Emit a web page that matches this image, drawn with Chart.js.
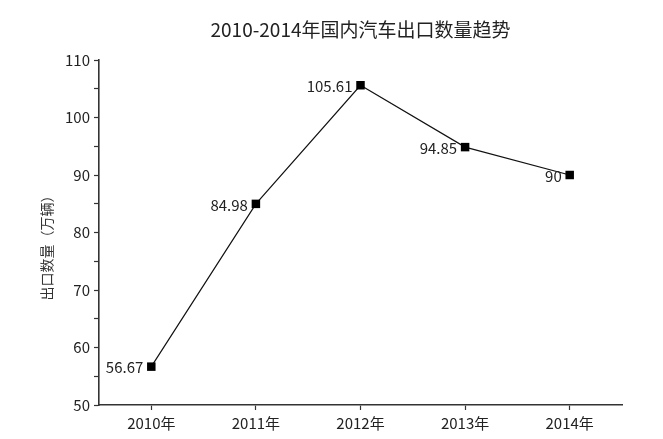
<!DOCTYPE html>
<html>
<head>
<meta charset="utf-8">
<script src="https://cdn.jsdelivr.net/npm/chart.js@4/dist/chart.umd.min.js"></script>
<style>
  html, body { margin: 0; padding: 0; background: #fff; }
  #wrap { width: 663px; height: 439px; }
</style>
</head>
<body>
<div id="wrap"><canvas id="myChart" width="663" height="439"></canvas></div>
<script>
// data
var years = ['2010年', '2011年', '2012年', '2013年', '2014年'];
var exports = [56.67, 84.98, 105.61, 94.85, 90];
var yTicks = [50, 60, 70, 80, 90, 100, 110];
var chartTitle = '2010-2014年国内汽车出口数量趋势';
var yTitle = '出口数量（万辆）';

var FONT = '"Noto Sans CJK SC", "Noto Sans", sans-serif';

// value to the left of each point, rotated y title, and the title over the plot area
var extras = {
    id: 'extras',
    afterDatasetsDraw: function (chart) {
        var ctx = chart.ctx;
        var area = chart.chartArea;
        var meta = chart.getDatasetMeta(0);
        ctx.save();
        ctx.font = '15px ' + FONT;
        ctx.fillStyle = '#222';
        ctx.textAlign = 'right';
        ctx.textBaseline = 'middle';
        meta.data.forEach(function (pt, i) {
            ctx.fillText(String(exports[i]), pt.x - 8, pt.y + 1);
        });
        ctx.restore();

        ctx.save();
        ctx.font = '19px ' + FONT;
        ctx.fillStyle = '#222';
        ctx.textAlign = 'center';
        ctx.textBaseline = 'middle';
        ctx.fillText(chartTitle, (area.left + area.right) / 2, 30);
        ctx.restore();

        ctx.save();
        ctx.translate(47, area.top + (area.bottom - area.top) / 2 + 12);
        ctx.rotate(-Math.PI / 2);
        ctx.font = '14px ' + FONT;
        ctx.fillStyle = '#333';
        ctx.textAlign = 'center';
        ctx.textBaseline = 'middle';
        ctx.fillText(yTitle, 0, 0);
        ctx.restore();
    }
};

var chart = new Chart(document.querySelector('#myChart').getContext('2d'), {
    type: 'line',
    data: {
        labels: years,
        datasets: [{
            data: exports,
            borderColor: '#111',
            borderWidth: 1.2,
            pointStyle: 'rect',
            pointRadius: 6,
            pointBackgroundColor: '#000',
            pointBorderColor: '#000',
            pointBorderWidth: 0,
            tension: 0
        }]
    },
    options: {
        responsive: false,
        animation: false,
        layout: { padding: { left: 0, right: 41, top: 60, bottom: 0 } },
        plugins: {
            legend: { display: false },
            tooltip: { enabled: false },
            title: { display: false }
        },
        scales: {
            x: {
                offset: true,
                grid: {
                    offset: false,
                    drawOnChartArea: false,
                    tickLength: 5,
                    tickWidth: 1.2,
                    tickColor: '#333'
                },
                border: { color: '#333', width: 1.6 },
                ticks: {
                    color: '#222',
                    padding: 4,
                    font: { family: FONT, size: 15 }
                },
                afterFit: function (s) { s.height = 34; }
            },
            y: {
                min: 50,
                max: 110,
                grid: {
                    drawOnChartArea: false,
                    tickLength: 5,
                    tickWidth: 1.2,
                    tickColor: '#333'
                },
                border: { color: '#333', width: 1.6 },
                ticks: {
                    stepSize: 5,
                    color: '#222',
                    padding: 4,
                    font: { family: FONT, size: 15 },
                    callback: function (v) { return yTicks.indexOf(v) >= 0 ? v : ''; }
                },
                afterFit: function (s) { s.width = 99; }
            }
        }
    },
    plugins: [extras]
});
</script>
</body>
</html>
